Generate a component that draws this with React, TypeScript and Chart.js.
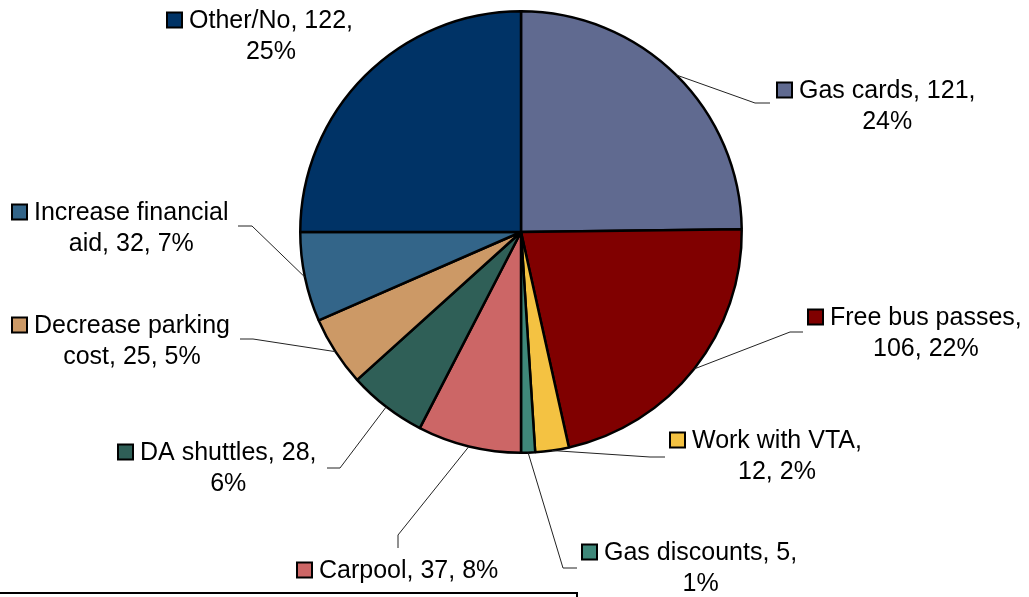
import React, { useEffect, useRef } from "react";
import { Chart, registerables } from "chart.js";

Chart.register(...registerables);

const categories = [
  "Gas cards",
  "Free bus passes",
  "Work with VTA",
  "Gas discounts",
  "Carpool",
  "DA shuttles",
  "Decrease parking cost",
  "Increase financial aid",
  "Other/No",
];
const counts = [121, 106, 12, 5, 37, 28, 25, 32, 122];
const percents = [24, 22, 2, 1, 8, 6, 5, 7, 25];

const colors = [
  "#606A90",
  "#800000",
  "#F4C242",
  "#3F887A",
  "#CC6666",
  "#2F5F57",
  "#CC9966",
  "#336589",
  "#003366",
];

// label placement (layout only): square left x, first-line centre y,
// number of words on first line (0 = single line), leader bend & end points
type LabelLayout = { sx: number; y: number; words: number; bend?: [number, number]; end?: [number, number] };
const labelLayout: LabelLayout[] = [
  { sx: 777, y: 90, words: 3, bend: [755, 103], end: [770, 103] },
  { sx: 808, y: 317, words: 3, bend: [790, 332], end: [803, 332] },
  { sx: 670, y: 440, words: 3, bend: [650, 457], end: [665, 457] },
  { sx: 582, y: 552, words: 3, bend: [563, 568], end: [577, 568] },
  { sx: 297, y: 570, words: 0, bend: [398, 535], end: [398, 548] },
  { sx: 118, y: 452, words: 3, bend: [340, 468], end: [327, 468] },
  { sx: 12, y: 325, words: 2, bend: [253, 339], end: [240, 339] },
  { sx: 12, y: 212, words: 2, bend: [252, 226], end: [238, 226] },
  { sx: 167, y: 20, words: 2 },
];

const FONT = '25px "Liberation Sans", Arial, sans-serif';

const labelPlugin = {
  id: "pieLabels",
  afterDraw(chart: any) {
    const ctx = chart.ctx as CanvasRenderingContext2D;
    const meta = chart.getDatasetMeta(0);
    ctx.save();
    meta.data.forEach((arc: any, i: number) => {
      const L = labelLayout[i];
      const p = arc.getProps(["x", "y", "startAngle", "endAngle", "outerRadius"], true);
      const mid = (p.startAngle + p.endAngle) / 2;
      const ex = p.x + Math.cos(mid) * p.outerRadius;
      const ey = p.y + Math.sin(mid) * p.outerRadius;
      if (L.bend && L.end) {
        ctx.beginPath();
        ctx.strokeStyle = "#222";
        ctx.lineWidth = 1;
        ctx.moveTo(ex, ey);
        ctx.lineTo(L.bend[0], L.bend[1]);
        ctx.lineTo(L.end[0], L.end[1]);
        ctx.stroke();
      }
      const full = `${categories[i]}, ${counts[i]}, ${percents[i]}%`;
      const words = full.split(" ");
      const lines =
        L.words > 0 && L.words < words.length
          ? [words.slice(0, L.words).join(" "), words.slice(L.words).join(" ")]
          : [full];
      ctx.font = FONT;
      ctx.fillStyle = "#000";
      ctx.textBaseline = "middle";
      ctx.textAlign = "left";
      const sq = 15;
      const tx = L.sx + 22;
      // square
      ctx.fillStyle = colors[i];
      ctx.fillRect(L.sx, L.y - sq / 2, sq, sq);
      ctx.strokeStyle = "#000";
      ctx.lineWidth = 2;
      ctx.strokeRect(L.sx, L.y - sq / 2, sq, sq);
      ctx.fillStyle = "#000";
      ctx.fillText(lines[0], tx, L.y + 1);
      const w0 = ctx.measureText(lines[0]).width;
      if (lines[1]) {
        ctx.textAlign = "center";
        ctx.fillText(lines[1], tx + w0 / 2, L.y + 32);
      }
    });
    ctx.restore();
  },
};

export default function App() {
  const ref = useRef<HTMLCanvasElement | null>(null);
  useEffect(() => {
    document.body.style.margin = "0";
    document.body.style.overflow = "hidden";
    if (!ref.current) return;
    const chart = new Chart(ref.current, {
      type: "pie",
      data: {
        labels: categories,
        datasets: [
          {
            data: counts,
            backgroundColor: colors,
            borderColor: "#000",
            borderWidth: 2.5,
          },
        ],
      },
      options: {
        responsive: false,
        animation: false,
        devicePixelRatio: 1,
        layout: { padding: { top: 10, bottom: 143, left: 299, right: 286 } },
        plugins: {
          legend: { display: false },
          tooltip: { enabled: false },
        },
      },
      plugins: [labelPlugin],
    });
    return () => chart.destroy();
  }, []);
  return (
    <div style={{ position: "absolute", left: 0, top: 0, width: 1029, height: 597, overflow: "hidden", background: "#fff" }}>
      <canvas ref={ref} width={1029} height={597} style={{ display: "block" }} />
      <div
        style={{
          position: "absolute",
          left: -2,
          top: 592,
          width: 578,
          height: 20,
          borderTop: "2px solid #000",
          borderRight: "2px solid #000",
        }}
      />
    </div>
  );
}
